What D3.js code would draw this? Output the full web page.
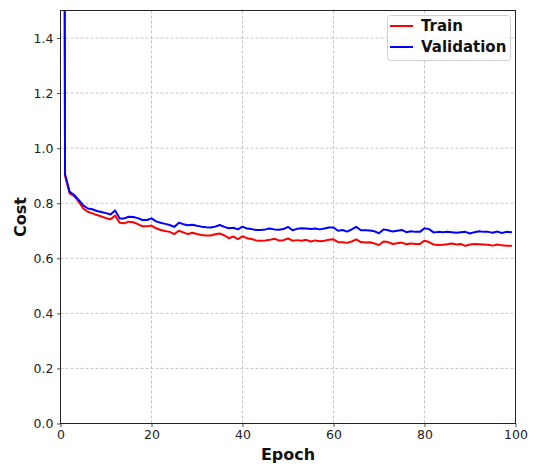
<!DOCTYPE html>
<html>
<head>
<meta charset="utf-8">
<script src="https://cdn.jsdelivr.net/npm/d3@7"></script>
<style>
  html, body { margin: 0; padding: 0; background: #fff; }
  svg { display: block; font-family: "DejaVu Sans", sans-serif; }
</style>
</head>
<body>
<svg id="chart" width="536" height="466"></svg>
<script>
// Training history: cost per epoch (epoch 0 starts far above the visible range)
const epochs = d3.range(0, 100);
const trainCost = [
  9.3, 0.900, 0.836, 0.826, 0.806, 0.781, 0.769, 0.763, 0.757, 0.752,
  0.746, 0.742, 0.755, 0.729, 0.727, 0.733, 0.731, 0.724, 0.716, 0.716,
  0.719, 0.709, 0.703, 0.699, 0.696, 0.688, 0.700, 0.694, 0.688, 0.693,
  0.688, 0.685, 0.683, 0.683, 0.687, 0.690, 0.683, 0.673, 0.679, 0.670,
  0.680, 0.673, 0.670, 0.665, 0.664, 0.665, 0.667, 0.671, 0.665, 0.666,
  0.672, 0.664, 0.666, 0.664, 0.667, 0.661, 0.665, 0.662, 0.664, 0.667,
  0.669, 0.659, 0.658, 0.656, 0.661, 0.669, 0.659, 0.657, 0.658, 0.654,
  0.648, 0.661, 0.659, 0.652, 0.655, 0.657, 0.651, 0.654, 0.652, 0.652,
  0.664, 0.659, 0.650, 0.648, 0.649, 0.651, 0.654, 0.650, 0.652, 0.645,
  0.650, 0.652, 0.651, 0.650, 0.649, 0.646, 0.650, 0.647, 0.646, 0.646
];
const validationCost = [
  9.5, 0.905, 0.842, 0.830, 0.812, 0.792, 0.781, 0.778, 0.772, 0.768,
  0.764, 0.759, 0.774, 0.745, 0.745, 0.751, 0.750, 0.746, 0.739, 0.739,
  0.745, 0.734, 0.729, 0.725, 0.721, 0.714, 0.729, 0.724, 0.720, 0.722,
  0.718, 0.715, 0.713, 0.712, 0.715, 0.721, 0.714, 0.709, 0.711, 0.705,
  0.715, 0.708, 0.706, 0.703, 0.703, 0.705, 0.708, 0.705, 0.704, 0.706,
  0.714, 0.702, 0.707, 0.709, 0.708, 0.706, 0.708, 0.705, 0.708, 0.712,
  0.712, 0.700, 0.703, 0.697, 0.705, 0.714, 0.702, 0.702, 0.701, 0.698,
  0.691, 0.705, 0.702, 0.697, 0.700, 0.703, 0.695, 0.698, 0.696, 0.696,
  0.709, 0.706, 0.694, 0.696, 0.695, 0.696, 0.695, 0.693, 0.695, 0.696,
  0.690, 0.695, 0.698, 0.696, 0.696, 0.693, 0.697, 0.692, 0.696, 0.695
];
const seriesNames = ["Train", "Validation"];
const seriesColors = ["#ff0000", "#0000ff"];
const xTicks = [0, 20, 40, 60, 80, 100];
const yTicks = [0.0, 0.2, 0.4, 0.6, 0.8, 1.0, 1.2, 1.4];

const svg = d3.select("#chart");
const margin = { left: 60.5, right: 20.5, top: 10.5, bottom: 42.5 };
const W = 536, H = 466;
const innerW = W - margin.left - margin.right;
const innerH = H - margin.top - margin.bottom;

const x = d3.scaleLinear().domain([0, 100]).range([margin.left, margin.left + innerW]);
const y = d3.scaleLinear().domain([0, 1.5]).range([margin.top + innerH, margin.top]);

// grid
const grid = svg.append("g").attr("stroke", "#b8b8b8").attr("stroke-width", 0.8)
  .attr("stroke-dasharray", "3,2");
grid.selectAll(".gx").data(xTicks.slice(1, -1)).join("line")
  .attr("x1", d => x(d)).attr("x2", d => x(d))
  .attr("y1", y(0)).attr("y2", y(1.5));
grid.selectAll(".gy").data(yTicks.slice(1)).join("line")
  .attr("y1", d => y(d)).attr("y2", d => y(d))
  .attr("x1", x(0)).attr("x2", x(100));

// clip region for the curves
svg.append("clipPath").attr("id", "plotClip").append("rect")
  .attr("x", x(0)).attr("y", y(1.5)).attr("width", x(100) - x(0)).attr("height", y(0) - y(1.5));

const line = d3.line().x(d => x(d[0])).y(d => y(d[1]));
const curves = [trainCost, validationCost];
svg.append("g").attr("clip-path", "url(#plotClip)")
  .selectAll("path").data(curves).join("path")
  .attr("d", vals => line(epochs.map((e, i) => [e, vals[i]])))
  .attr("fill", "none")
  .attr("stroke", (d, i) => seriesColors[i])
  .attr("stroke-width", 2)
  .attr("stroke-linejoin", "round")
  .attr("stroke-linecap", "square");

// axes
const xAxis = d3.axisBottom(x).tickValues(xTicks).tickFormat(d3.format("d")).tickSize(3.5).tickPadding(3.5);
const yAxis = d3.axisLeft(y).tickValues(yTicks).tickFormat(d3.format(".1f")).tickSize(3.5).tickPadding(3.5);
const gx = svg.append("g").attr("transform", `translate(0,${y(0)})`).call(xAxis);
const gy = svg.append("g").attr("transform", `translate(${x(0)},0)`).call(yAxis);
[gx, gy].forEach(g => {
  g.select(".domain").remove();
  g.selectAll("line").attr("stroke", "#222").attr("stroke-width", 0.8);
  g.selectAll("text").attr("font-size", 12.5).attr("fill", "#222")
    .attr("font-family", "DejaVu Sans, sans-serif");
});

// frame
svg.append("rect")
  .attr("x", x(0)).attr("y", y(1.5))
  .attr("width", x(100) - x(0)).attr("height", y(0) - y(1.5))
  .attr("fill", "none").attr("stroke", "#222").attr("stroke-width", 1);

// axis labels
svg.append("text").attr("x", (x(0) + x(100)) / 2).attr("y", 460)
  .attr("text-anchor", "middle").attr("font-size", 16).attr("font-weight", "bold")
  .attr("fill", "#111").text("Epoch");
svg.append("text").attr("transform", `translate(26,${(y(0) + y(1.5)) / 2}) rotate(-90)`)
  .attr("text-anchor", "middle").attr("font-size", 16).attr("font-weight", "bold")
  .attr("fill", "#111").text("Cost");

// legend
const legend = svg.append("g");
legend.append("rect")
  .attr("x", 387.5).attr("y", 15.5).attr("width", 123).attr("height", 45)
  .attr("rx", 3).attr("fill", "#fff").attr("fill-opacity", 0.8)
  .attr("stroke", "#d0d0d0").attr("stroke-width", 1);
const items = legend.selectAll("g.item").data(seriesNames).join("g")
  .attr("transform", (d, i) => `translate(0,${26 + i * 21})`);
items.append("line").attr("x1", 390).attr("x2", 413).attr("y1", 0).attr("y2", 0)
  .attr("stroke", (d, i) => seriesColors[i]).attr("stroke-width", 2);
items.append("text").attr("x", 421).attr("y", 0).attr("dy", "0.35em")
  .attr("font-size", 15).attr("font-weight", "bold").attr("fill", "#111").text(d => d);
</script>
</body>
</html>
